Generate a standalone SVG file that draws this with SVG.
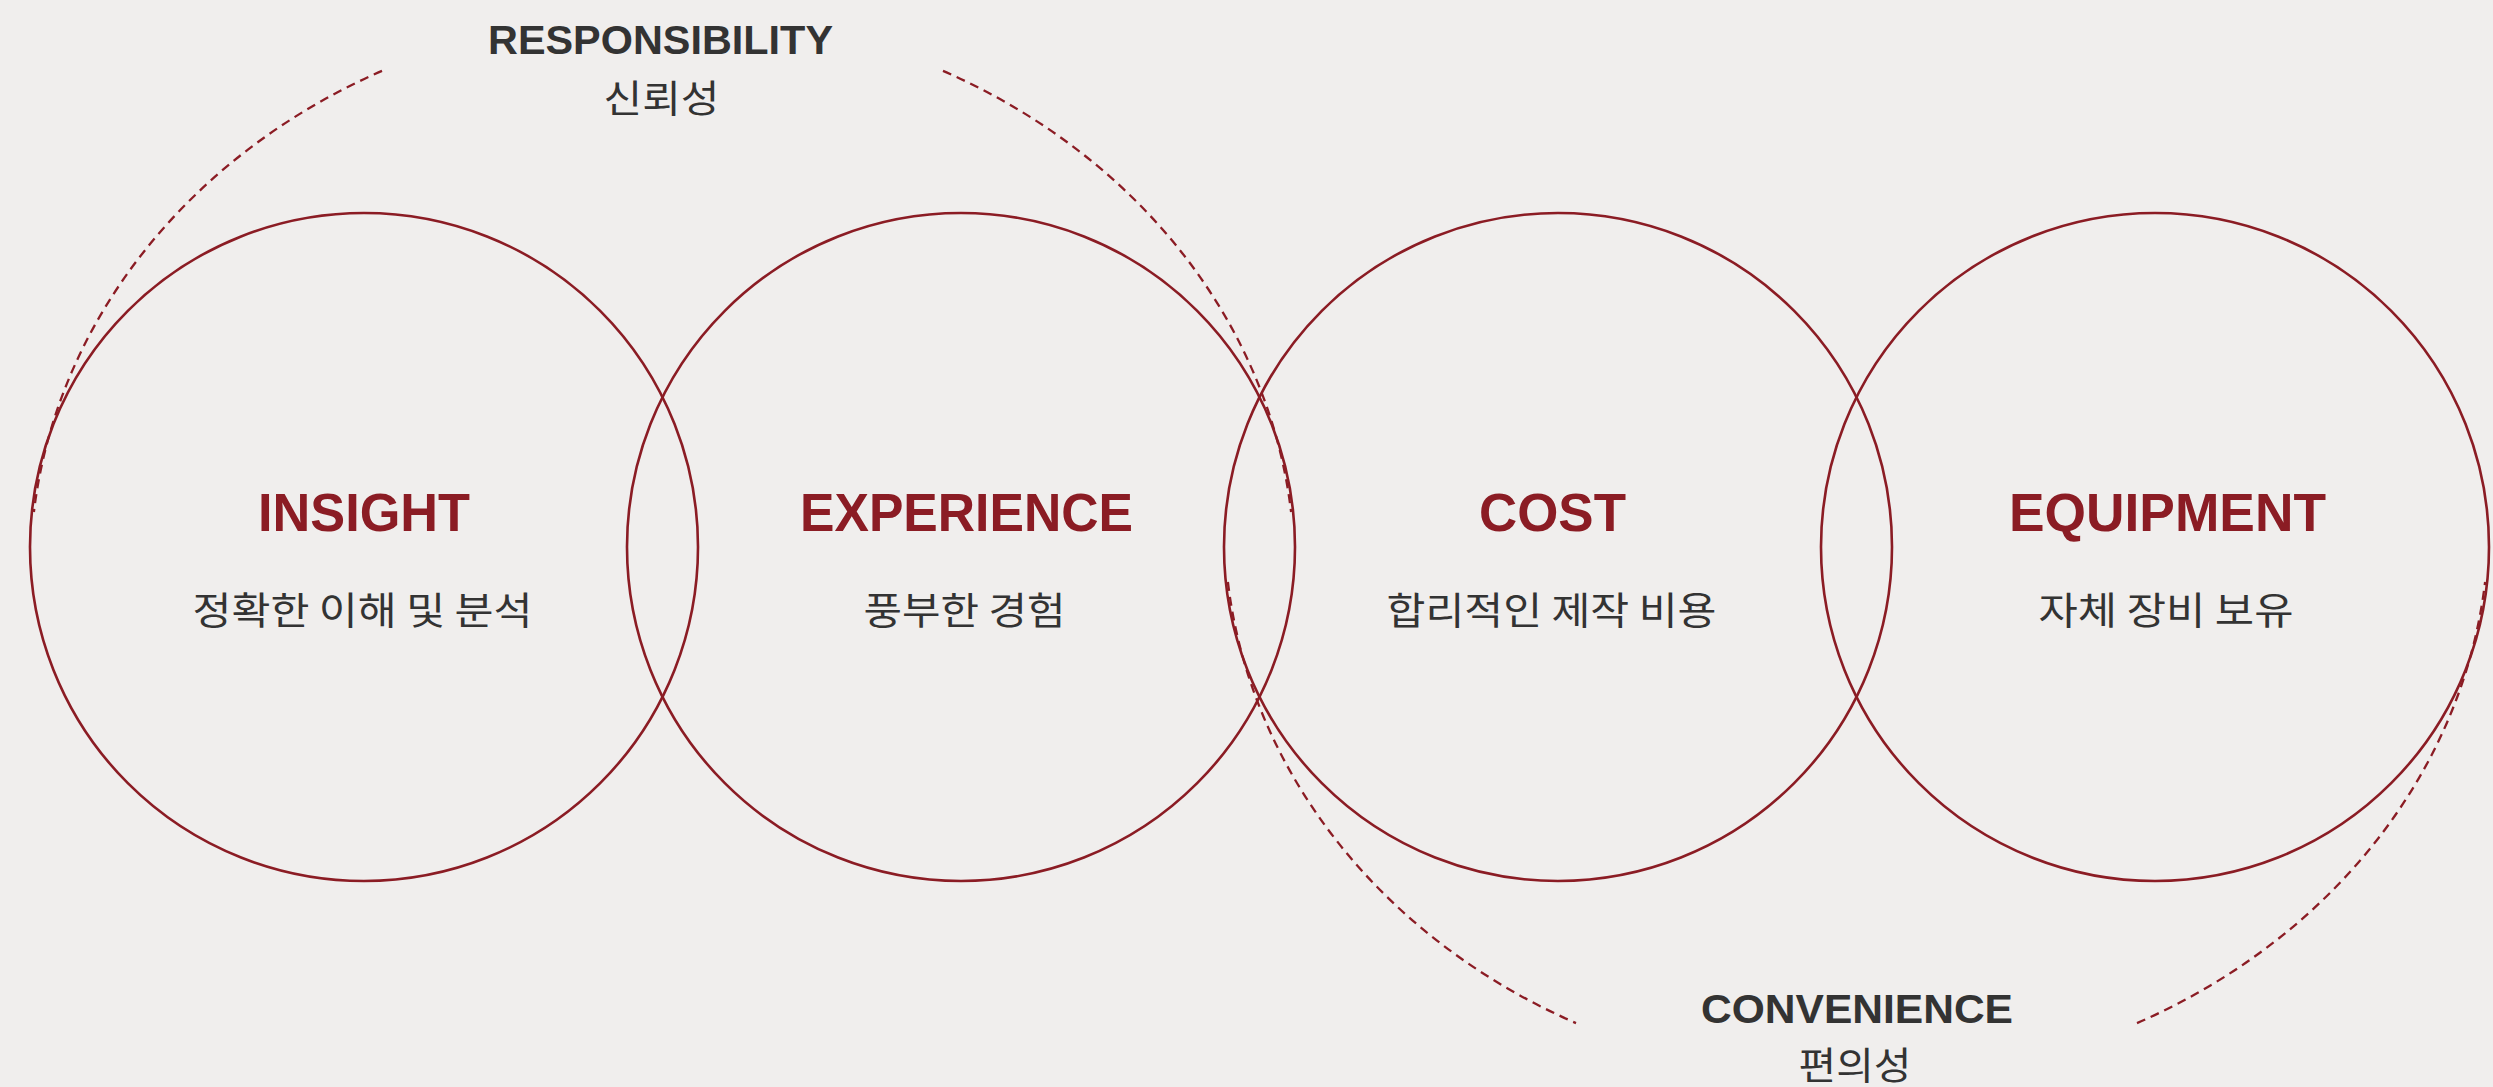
<svg xmlns="http://www.w3.org/2000/svg" width="2493" height="1087" viewBox="0 0 2493 1087">
  <style>
    .ring { fill: none; stroke: #8B1C24; stroke-width: 2.6; }
    .dash { fill: none; stroke: #8B1C24; stroke-width: 2.3; stroke-dasharray: 9 6; }
    .title { font-family: "Liberation Sans", Arial, sans-serif; font-weight: 700; font-size: 53px; fill: #8B1C24; text-anchor: middle; }
    .sub { font-family: "Noto Sans CJK KR", "Noto Sans", sans-serif; font-weight: 400; font-size: 38px; fill: #333333; text-anchor: middle; }
    .glabel { font-family: "Liberation Sans", Arial, sans-serif; font-weight: 700; font-size: 41.5px; fill: #333333; text-anchor: middle; }
  </style>
  <rect x="0" y="0" width="2493" height="1087" fill="#F0EEED"/>

  <g id="connectors">
    <path class="dash" d="M 382 70.9 A 632 557 0 0 0 33.9 512"/>
    <path class="dash" d="M 943 70.9 A 632 557 0 0 1 1291.1 512"/>
    <path class="dash" d="M 1227.9 582 A 632 557 0 0 0 1576 1023.1"/>
    <path class="dash" d="M 2137 1023.1 A 632 557 0 0 0 2485.1 582"/>
  </g>

  <g id="label-responsibility">
    <text class="glabel" x="660.5" y="54" textLength="345" lengthAdjust="spacingAndGlyphs">RESPONSIBILITY</text>
    <text class="sub" x="661.5" y="112" textLength="116" lengthAdjust="spacingAndGlyphs">신뢰성</text>
  </g>

  <g id="label-convenience">
    <text class="glabel" x="1857" y="1023" textLength="312" lengthAdjust="spacingAndGlyphs">CONVENIENCE</text>
    <text class="sub" x="1855" y="1079" textLength="113" lengthAdjust="spacingAndGlyphs">편의성</text>
  </g>

  <g id="node-insight">
    <circle class="ring" cx="364" cy="547" r="334"/>
    <text class="title" x="364" y="531" textLength="212" lengthAdjust="spacingAndGlyphs">INSIGHT</text>
    <text class="sub" x="362.5" y="624" textLength="340" lengthAdjust="spacingAndGlyphs">정확한 이해 및 분석</text>
  </g>

  <g id="node-experience">
    <circle class="ring" cx="961" cy="547" r="334"/>
    <text class="title" x="966.5" y="531" textLength="333" lengthAdjust="spacingAndGlyphs">EXPERIENCE</text>
    <text class="sub" x="964.5" y="624" textLength="202" lengthAdjust="spacingAndGlyphs">풍부한 경험</text>
  </g>

  <g id="node-cost">
    <circle class="ring" cx="1558" cy="547" r="334"/>
    <text class="title" x="1552.5" y="531" textLength="147" lengthAdjust="spacingAndGlyphs">COST</text>
    <text class="sub" x="1551.5" y="624" textLength="330" lengthAdjust="spacingAndGlyphs">합리적인 제작 비용</text>
  </g>

  <g id="node-equipment">
    <circle class="ring" cx="2155" cy="547" r="334"/>
    <text class="title" x="2167.5" y="531" textLength="317" lengthAdjust="spacingAndGlyphs">EQUIPMENT</text>
    <text class="sub" x="2166" y="624" textLength="255" lengthAdjust="spacingAndGlyphs">자체 장비 보유</text>
  </g>
</svg>
